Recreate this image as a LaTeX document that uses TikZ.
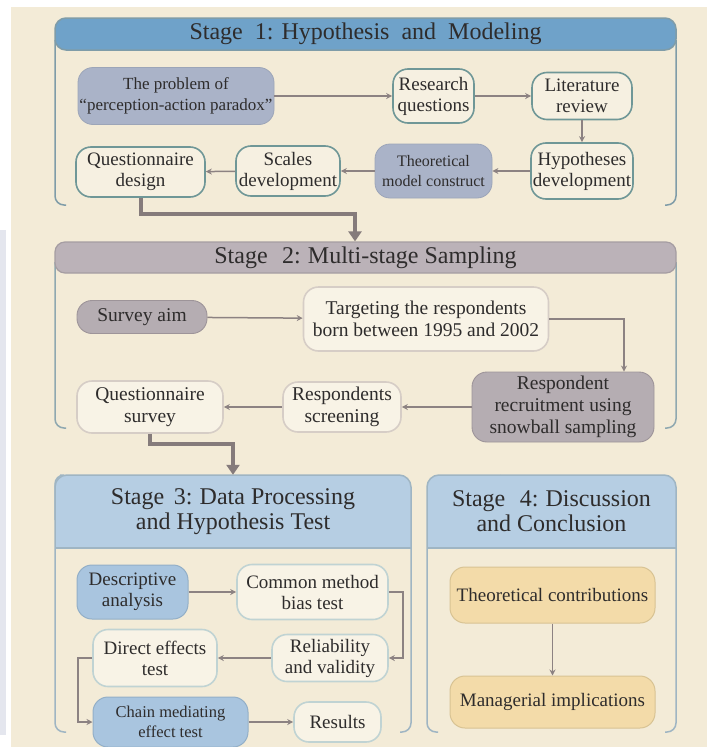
\documentclass[tikz,border=0pt]{standalone}
\usepackage{fontspec}
\setmainfont{Liberation Serif}
\usetikzlibrary{arrows.meta}

\definecolor{bgcream}{HTML}{F3EBD7}
\definecolor{sidestrip}{HTML}{E4E6EE}
\definecolor{txt}{HTML}{2E2C2C}
\definecolor{headA}{HTML}{6FA2C9}
\definecolor{frameA}{HTML}{7F9CA8}
\definecolor{tealline}{HTML}{6F9797}
\definecolor{creamA}{HTML}{F6F0E1}
\definecolor{bluegray}{HTML}{AAB3C8}
\definecolor{headB}{HTML}{BBB2B8}
\definecolor{headBline}{HTML}{A59DA2}
\definecolor{frameB}{HTML}{8FA8B0}
\definecolor{mauve}{HTML}{B5ADB2}
\definecolor{mauveline}{HTML}{9D9499}
\definecolor{lightline}{HTML}{D6CDC6}
\definecolor{creamB}{HTML}{F8F3E6}
\definecolor{headC}{HTML}{B6CEE3}
\definecolor{frameC}{HTML}{9FB5C3}
\definecolor{bluefill}{HTML}{A9C5DF}
\definecolor{blueline}{HTML}{93AFC7}
\definecolor{paleteal}{HTML}{C0D3D3}
\definecolor{tanfill}{HTML}{F3DBA9}
\definecolor{tanline}{HTML}{D8C393}
\definecolor{arrowc}{HTML}{8C8282}

\tikzset{
  basebox/.style={rounded corners=15pt, align=center, inner sep=1pt, text=txt,
    line width=1.6pt, font=\fontsize{19}{21}\selectfont},
  tealbox/.style={basebox, draw=tealline, fill=creamA},
  slatebox/.style={basebox, draw=bluegray!92!black, fill=bluegray, line width=0.8pt},
  mauvebox/.style={basebox, draw=mauveline, fill=mauve, line width=0.9pt,
    font=\fontsize{19.5}{22}\selectfont},
  palebox/.style={basebox, draw=lightline, fill=creamB, font=\fontsize{19.5}{22}\selectfont},
  bluebox/.style={basebox, draw=blueline, fill=bluefill, line width=1pt, font=\fontsize{19}{21}\selectfont},
  paletealbox/.style={basebox, draw=paleteal, fill=creamB, font=\fontsize{19}{21}\selectfont},
  tanbox/.style={basebox, draw=tanline, fill=tanfill, line width=1pt, font=\fontsize{19}{21}\selectfont},
  headtext/.style={align=center, text=txt, inner sep=0pt, font=\fontsize{24}{25}\selectfont},
  flow/.style={draw=arrowc, line width=1.5pt, -{Stealth[length=6pt,width=6pt]}},
  bigflow/.style={draw=arrowc!95!black, line width=4pt, -{Triangle[length=10pt,width=13pt]}},
  bracketA/.style={draw=frameA, line width=1.5pt, rounded corners=9pt},
  bracketB/.style={draw=frameB, line width=1.5pt, rounded corners=9pt},
  bracketC/.style={draw=frameC, line width=1.5pt, rounded corners=9pt},
}

\begin{document}
\begin{tikzpicture}[x=1pt,y=-1pt]
\useasboundingbox (0,0) rectangle (707,747);
\fill[white] (0,0) rectangle (707,747);
\fill[sidestrip] (0,230) rectangle (6,735);
\fill[bgcream] (11,7) rectangle (707,747);

% ---------------- Stage 1 ----------------
\draw[bracketA] (55,40) -- (55,205) -- (66,205);
\draw[bracketA] (676,40) -- (676,205) -- (665,205);
\node[headtext, draw=frameA, fill=headA, line width=1.5pt, rounded corners=11pt,
      minimum width=621pt, minimum height=32pt] (h1) at (365.5,34)
  {Stage\hspace{0.5em}1: Hypothesis\hspace{0.5em}and\hspace{0.5em}Modeling};

\node[slatebox, minimum width=196pt, minimum height=57pt,
      font=\fontsize{17}{21}\selectfont] (prob) at (176,96)
  {The problem of\\“perception-action paradox”};
\node[tealbox, minimum width=81pt, minimum height=54pt] (rq) at (433.5,96) {Research\\questions};
\node[tealbox, minimum width=100pt, minimum height=47pt] (lit) at (582,96) {Literature\\review};
\node[tealbox, minimum width=102pt, minimum height=56pt] (hyp) at (582,171) {Hypotheses\\development};
\node[slatebox, minimum width=117pt, minimum height=54pt,
      font=\fontsize{16}{20}\selectfont] (theo) at (433.5,171) {Theoretical\\model construct};
\node[tealbox, minimum width=104pt, minimum height=50pt] (scl) at (288,171) {Scales\\development};
\node[tealbox, minimum width=129pt, minimum height=50pt] (qd) at (140.5,172) {Questionnaire\\design};

\draw[flow] (prob) -- (rq);
\draw[flow] (rq) -- (lit);
\draw[flow] (lit) -- (hyp);
\draw[flow] (hyp) -- (theo);
\draw[flow] (theo) -- (scl);
\draw[flow] (scl) -- (qd);

% ---------------- Stage 2 ----------------
\draw[bracketB] (55,262) -- (55,428) -- (66,428);
\draw[bracketB] (676,262) -- (676,428) -- (665,428);
\node[headtext, draw=headBline, fill=headB, line width=1.2pt, rounded corners=10pt,
      minimum width=621pt, minimum height=31pt] (h2) at (365.5,257.5)
  {Stage\hspace{0.6em}2:\hspace{0.3em}Multi-stage Sampling};

\node[mauvebox, minimum width=130pt, minimum height=33pt] (aim) at (142,317) {Survey aim};
\node[palebox, minimum width=245pt, minimum height=64pt] (tgt) at (426,319)
  {Targeting the respondents\\born between 1995 and 2002};
\node[mauvebox, minimum width=182pt, minimum height=70pt] (rec) at (563,407)
  {Respondent\\recruitment using\\snowball sampling};
\node[palebox, minimum width=118pt, minimum height=50pt] (scr) at (342,407) {Respondents\\screening};
\node[palebox, minimum width=146pt, minimum height=52pt] (qs) at (150,407) {Questionnaire\\survey};

\coordinate (drop) at (624,0);
\draw[flow] (aim) -- (tgt);
\draw[flow] (tgt.east) -| (drop |- rec.north);
\draw[flow] (rec) -- (scr);
\draw[flow] (scr) -- (qs);

% ---------------- Stage 3 ----------------
\fill[headC] (55,548) [rounded corners=12pt] -- (55,475) -- (411,475) [sharp corners] -- (411,548) -- cycle;
\draw[frameC, line width=1.5pt] (55,548) -- (411,548);
\draw[bracketC] (55,520) [rounded corners=12pt] -- (55,475) -- (411,475) [rounded corners=9pt] -- (411,732) -- (400,732);
\draw[bracketC] (60,475) -- (55,475) -- (55,732) -- (66,732);
\node[headtext, minimum width=356pt, minimum height=73pt] (h3) at (233,511.5)
  {Stage\hspace{0.4em}3:\hspace{0.3em}Data Processing\\and Hypothesis Test};

\node[bluebox, minimum width=111pt, minimum height=54pt] (desc) at (132.5,592) {Descriptive\\analysis};
\node[paletealbox, minimum width=151pt, minimum height=55pt] (cmb) at (312.5,592) {Common method\\bias test};
\node[paletealbox, minimum width=116pt, minimum height=47pt] (rel) at (330,658) {Reliability\\and validity};
\node[paletealbox, minimum width=124pt, minimum height=57pt] (dir) at (155,658) {Direct effects\\test};
\node[bluebox, minimum width=155pt, minimum height=50pt,
      font=\fontsize{16.5}{20}\selectfont] (chain) at (170.5,722) {Chain mediating\\effect test};
\node[paletealbox, minimum width=87pt, minimum height=40pt] (res) at (337.5,722) {Results};

\draw[flow] (desc) -- (cmb);
\draw[flow] (cmb.east) -- ++(14,0) |- (rel.east);
\draw[flow] (rel) -- (dir);
\draw[flow] (dir.west) -- ++(-14,0) |- (chain.west);
\draw[flow] (chain) -- (res);

% ---------------- Stage 4 ----------------
\fill[headC] (427,548) [rounded corners=12pt] -- (427,475) -- (676,475) [sharp corners] -- (676,548) -- cycle;
\draw[frameC, line width=1.5pt] (427,548) -- (676,548);
\draw[bracketC] (500,475) [rounded corners=12pt] -- (676,475) [rounded corners=9pt] -- (676,732) -- (665,732);
\draw[bracketC] (500,475) [rounded corners=12pt] -- (427,475) [rounded corners=9pt] -- (427,732) -- (438,732);
\node[headtext, minimum width=249pt, minimum height=73pt] (h4) at (551.5,511.5)
  {Stage\hspace{0.6em}4:\hspace{0.3em}Discussion\\and Conclusion};

\node[tanbox, minimum width=205pt, minimum height=56pt] (tc) at (552.5,595) {Theoretical contributions};
\node[tanbox, minimum width=205pt, minimum height=52pt] (mi) at (552.5,702) {Managerial implications};
\draw[flow] (tc) -- (mi);

% ---------------- links between stages ----------------
\coordinate (jA) at (355,0);
\coordinate (jB) at (233,0);
\draw[bigflow] (qd.south) -- ++(0,16) -| (jA |- h2.north);
\draw[bigflow] (qs.south) -- ++(0,10) -| (jB |- h3.north);
\end{tikzpicture}
\end{document}
